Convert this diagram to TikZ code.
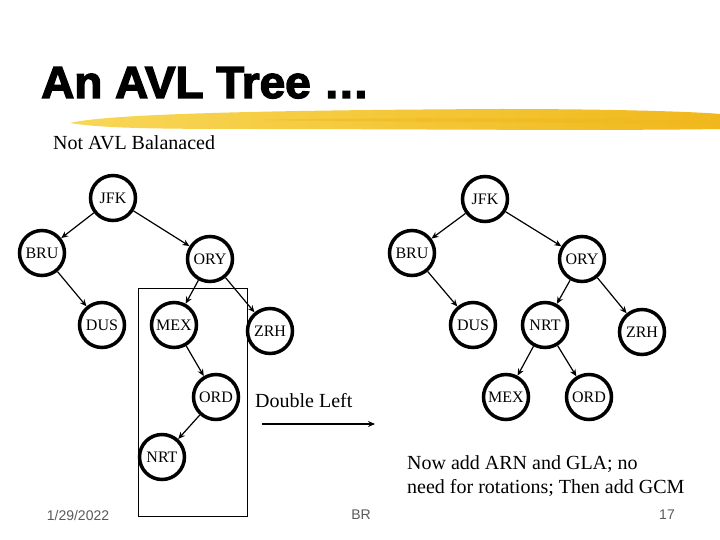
\documentclass[tikz,border=0pt]{standalone}
\usepackage{fontspec}
\setmainfont{Liberation Serif}
\setsansfont{Liberation Sans}
\newfontfamily\titlefont{Liberation Sans}[BoldFeatures={FakeBold=3}]
\usetikzlibrary{arrows.meta}
\definecolor{brushlight}{HTML}{F8D757}
\definecolor{brushdark}{HTML}{F0B81C}
\definecolor{footgray}{HTML}{5A5A5A}

\begin{document}
\begin{tikzpicture}[x=1pt, y=-1pt, >={Stealth[length=7pt,width=6pt]},
    key/.style={circle, draw, line width=3.5pt, fill=white, minimum size=45pt,
        inner sep=0pt, font=\fontsize{16}{16}\selectfont},
    edge/.style={->, line width=1.2pt},
    txt/.style={font=\fontsize{20}{24}\selectfont, inner sep=0pt},
    foot/.style={font=\sffamily\fontsize{14}{14}\selectfont, text=footgray, inner sep=0pt}]
    \useasboundingbox (0,0) rectangle (720,540);

    % title and brush stroke
    \node[anchor=base west, inner sep=0pt, font=\titlefont\bfseries\fontsize{45}{45}\selectfont] (title) at (41,98) {\scalebox{1.02}[1]{An AVL Tree \dots}};
    \shade[left color=brushlight, right color=brushdark]
        (70,123) .. controls (110,113) and (300,110) .. (500,109)
        .. controls (620,109) and (700,112) .. (720,114) -- (720,129)
        .. controls (600,131) and (400,129) .. (250,129)
        .. controls (150,129) and (100,128) .. (70,123) -- cycle;
    \fill[brushdark, opacity=0.5]
        (250,120) .. controls (400,117) and (600,118) .. (720,121)
        -- (720,124) .. controls (600,123) and (400,122) .. (250,120) -- cycle;

    \node[txt, anchor=base west] (note) at (53,150) {Not AVL Balanaced};

    % left tree
    \node[key] (lJFK) at (113,198) {JFK};
    \node[key] (lBRU) at (42,253) {BRU};
    \node[key] (lORY) at (210,259) {ORY};
    \node[key] (lDUS) at (102,325) {DUS};
    \node[key] (lMEX) at (174,325) {MEX};
    \node[key] (lZRH) at (270,331) {ZRH};
    \node[key] (lORD) at (216,397) {ORD};
    \node[key] (lNRT) at (162,457) {NRT};
    \draw[edge] (lJFK) -- (lBRU);
    \draw[edge] (lJFK) -- (lORY);
    \draw[edge] (lBRU) -- (lDUS);
    \draw[edge] (lORY) -- (lMEX);
    \draw[edge] (lORY) -- (lZRH);
    \draw[edge] (lMEX) -- (lORD);
    \draw[edge] (lORD) -- (lNRT);
    \draw[line width=0.8pt] (138,288) rectangle (247,516);

    % rotation
    \node[txt, anchor=base west] (rot) at (255,407) {Double Left};
    \coordinate (rotA) at (262,424);
    \coordinate (rotB) at (375,424);
    \draw[edge] (rotA) -- (rotB);

    % right tree
    \node[key] (rJFK) at (485,199) {JFK};
    \node[key] (rBRU) at (412,253) {BRU};
    \node[key] (rORY) at (582,259) {ORY};
    \node[key] (rDUS) at (473,325) {DUS};
    \node[key] (rNRT) at (545,325) {NRT};
    \node[key] (rZRH) at (642,332) {ZRH};
    \node[key] (rMEX) at (506,397) {MEX};
    \node[key] (rORD) at (589,397) {ORD};
    \draw[edge] (rJFK) -- (rBRU);
    \draw[edge] (rJFK) -- (rORY);
    \draw[edge] (rBRU) -- (rDUS);
    \draw[edge] (rORY) -- (rNRT);
    \draw[edge] (rORY) -- (rZRH);
    \draw[edge] (rNRT) -- (rMEX);
    \draw[edge] (rNRT) -- (rORD);

    \node[txt, anchor=base west] (next1) at (407,469) {Now add ARN and GLA; no};
    \node[txt, anchor=base west] (next2) at (407,493) {need for rotations; Then add GCM};

    % footer
    \node[foot] (date) at (78,515) {1/29/2022};
    \node[foot] (who) at (361,515) {BR};
    \node[foot] (page) at (667,515) {17};
\end{tikzpicture}
\end{document}
